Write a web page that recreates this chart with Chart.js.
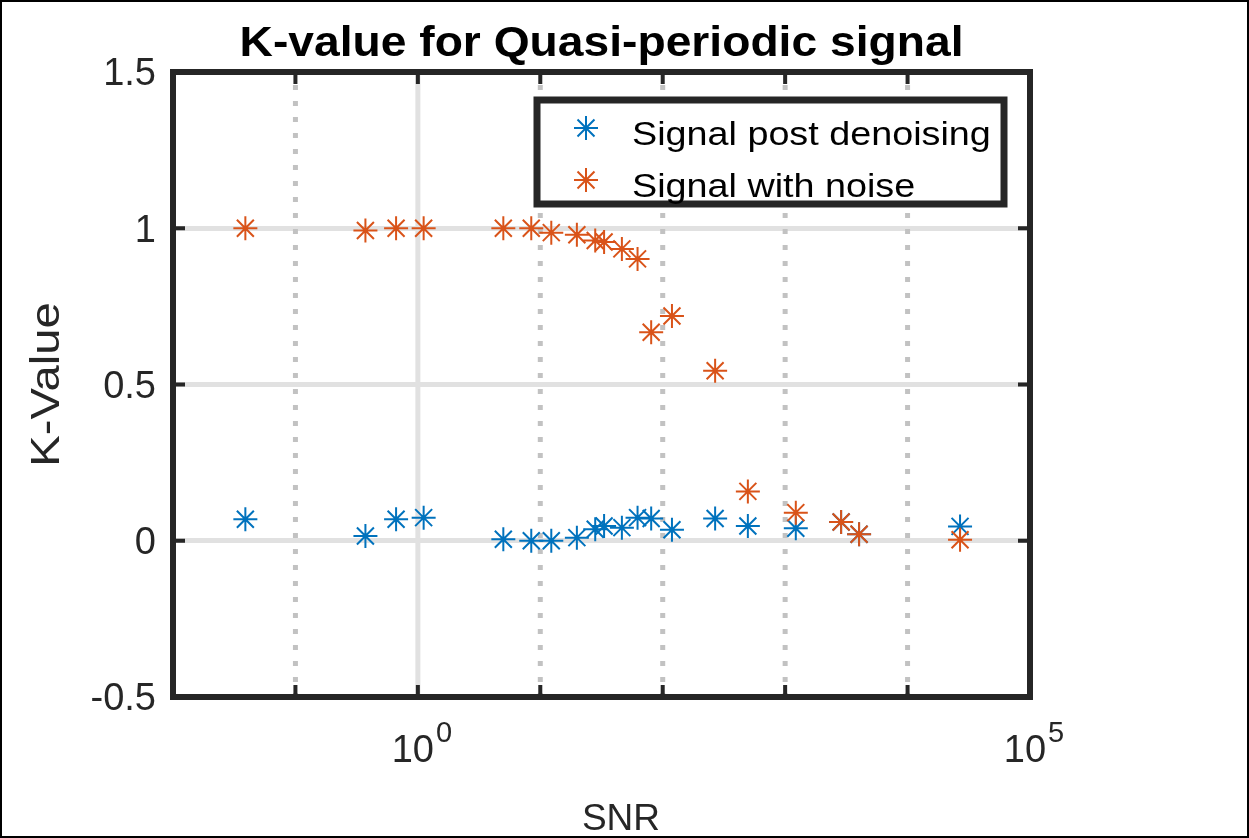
<!DOCTYPE html>
<html>
<head>
<meta charset="utf-8">
<title>K-value for Quasi-periodic signal</title>
<script src="https://cdn.jsdelivr.net/npm/chart.js@4.4.1/dist/chart.umd.min.js"></script>
<style>
  html, body { margin: 0; padding: 0; background: #fff; }
  canvas { display: block; }
</style>
</head>
<body>
<canvas id="kChart" width="1249" height="838"></canvas>
<script>
// SNR of each run and the K-value measured for it
const snr = [0.039, 0.373, 0.664, 1.115, 4.99, 8.44, 12.3, 19.9, 28.1, 33.2,
             46.4, 62.3, 80.5, 119, 268, 496, 1222, 2866, 4018, 26830];
const kDenoised = [0.069, 0.015, 0.069, 0.074, 0.005, 0, 0, 0.010, 0.037, 0.047,
                   0.042, 0.074, 0.071, 0.035, 0.071, 0.047, 0.040, 0.060, 0.021, 0.046];
const kNoisy = [1.0, 0.993, 1.0, 1.0, 1.0, 1.0, 0.986, 0.979, 0.961, 0.956,
                0.934, 0.902, 0.667, 0.719, 0.544, 0.158, 0.090, 0.060, 0.021, 0.003];

const seriesNames = ['Signal post denoising', 'Signal with noise'];
const seriesColors = ['#0072BD', '#D95319'];

const xDecades = [1e-2, 1e-1, 1e0, 1e1, 1e2, 1e3, 1e4, 1e5];
const xLabelExps = [0, 5];
const yTicks = [-0.5, 0, 0.5, 1, 1.5];
const yTickLabels = ['-0.5', '0', '0.5', '1', '1.5'];

const AXIS_COLOR = '#262626';
const FONT = '"Liberation Sans", Arial, Helvetica, sans-serif';

function toPoints(ys) {
    return snr.map((s, i) => ({ x: s, y: ys[i] }));
}

// text with a horizontal stretch (along the text direction)
function drawText(ctx, text, x, y, font, sx, align, baseline, rot) {
    ctx.save();
    ctx.font = font;
    ctx.textAlign = align;
    ctx.textBaseline = baseline;
    ctx.translate(x, y);
    if (rot) ctx.rotate(rot);
    ctx.scale(sx, 1);
    ctx.fillText(text, 0, 0);
    ctx.restore();
}

function drawStar(ctx, color, x, y) {
    ctx.save();
    ctx.strokeStyle = color;
    ctx.fillStyle = color;
    ctx.lineWidth = 2;
    Chart.helpers.drawPoint(ctx, { pointStyle: 'star', radius: 12, borderWidth: 2, rotation: 0 }, x, y);
    ctx.restore();
}

const matlabAxes = {
    id: 'matlabAxes',
    beforeDatasetsDraw(chart) {
        const { ctx, chartArea: a, scales: { x } } = chart;
        ctx.save();
        ctx.beginPath();
        ctx.rect(a.left, a.top, a.right - a.left, a.bottom - a.top);
        ctx.clip();
        x.ticks.forEach(t => {
            const px = x.getPixelForValue(t.value);
            const major = xLabelExps.includes(Math.round(Math.log10(t.value)));
            ctx.beginPath();
            ctx.lineWidth = 5;
            if (major) {
                ctx.strokeStyle = '#e1e1e1';
                ctx.setLineDash([]);
            } else {
                ctx.strokeStyle = '#c2c2c2';
                ctx.setLineDash([5, 11]);
                ctx.lineDashOffset = 3;
            }
            ctx.moveTo(px, a.top);
            ctx.lineTo(px, a.bottom);
            ctx.stroke();
        });
        ctx.restore();
    },
    afterDraw(chart) {
        const { ctx, chartArea: a, scales: { x, y } } = chart;
        ctx.save();

        // axes box
        ctx.strokeStyle = AXIS_COLOR;
        ctx.lineWidth = 6;
        ctx.strokeRect(a.left, a.top, a.right - a.left, a.bottom - a.top);

        // inward tick marks
        ctx.lineWidth = 4;
        ctx.beginPath();
        x.ticks.forEach(t => {
            const px = x.getPixelForValue(t.value);
            ctx.moveTo(px, a.bottom); ctx.lineTo(px, a.bottom - 12);
            ctx.moveTo(px, a.top); ctx.lineTo(px, a.top + 12);
        });
        yTicks.forEach(v => {
            const py = y.getPixelForValue(v);
            ctx.moveTo(a.left, py); ctx.lineTo(a.left + 12, py);
            ctx.moveTo(a.right, py); ctx.lineTo(a.right - 12, py);
        });
        ctx.stroke();

        // y tick labels
        ctx.fillStyle = AXIS_COLOR;
        yTicks.forEach((v, i) => {
            drawText(ctx, yTickLabels[i], a.left - 17, y.getPixelForValue(v) + 3,
                     '38px ' + FONT, 1.0, 'right', 'middle');
        });

        // x tick labels as powers of ten
        xLabelExps.forEach(e => {
            const px = x.getPixelForValue(Math.pow(10, e));
            ctx.font = '38px ' + FONT;
            const wBase = ctx.measureText('10').width;
            ctx.font = '29px ' + FONT;
            const wExp = ctx.measureText(String(e)).width;
            const left = px + 4 - (wBase + wExp + 2) / 2;
            drawText(ctx, '10', left, 762, '38px ' + FONT, 1.0, 'left', 'alphabetic');
            drawText(ctx, String(e), left + wBase + 2, 742, '29px ' + FONT, 1.0, 'left', 'alphabetic');
        });

        // axis titles
        drawText(ctx, 'SNR', 621, 830, '37px ' + FONT, 1.0, 'center', 'alphabetic');
        drawText(ctx, 'K-Value', 48, (a.top + a.bottom) / 2, '40px ' + FONT, 1.18, 'center', 'middle', -Math.PI / 2);

        // title
        ctx.fillStyle = '#000';
        drawText(ctx, 'K-value for Quasi-periodic signal', (a.left + a.right) / 2, 56,
                 'bold 42px ' + FONT, 1.1, 'center', 'alphabetic');

        // legend
        const lx = 537, ly = 100, lw = 467, lh = 104;
        ctx.fillStyle = '#fff';
        ctx.fillRect(lx, ly, lw, lh);
        ctx.strokeStyle = AXIS_COLOR;
        ctx.lineWidth = 7;
        ctx.strokeRect(lx, ly, lw, lh);
        chart.data.datasets.forEach((ds, i) => {
            const rowY = 128 + i * 52;
            drawStar(ctx, ds.borderColor, 586, rowY);
            ctx.fillStyle = '#000';
            drawText(ctx, ds.label, 632, rowY + 17, '34px ' + FONT, 1.11, 'left', 'alphabetic');
        });

        // figure border
        ctx.strokeStyle = '#000';
        ctx.lineWidth = 2;
        ctx.strokeRect(1, 1, chart.width - 2, chart.height - 2);

        ctx.restore();
    }
};

const datasets = [kDenoised, kNoisy].map((ys, i) => ({
    label: seriesNames[i],
    data: toPoints(ys),
    showLine: false,
    pointStyle: 'star',
    pointRadius: 12,
    pointHoverRadius: 12,
    borderWidth: 2,
    borderColor: seriesColors[i],
    backgroundColor: seriesColors[i],
    order: 2 - i
}));

new Chart(document.getElementById('kChart'), {
    type: 'scatter',
    data: { datasets: datasets },
    options: {
        responsive: false,
        animation: false,
        events: [],
        layout: { padding: { left: 0, right: 219, top: 72, bottom: 0 } },
        plugins: {
            legend: { display: false },
            title: { display: false },
            tooltip: { enabled: false }
        },
        scales: {
            x: {
                type: 'logarithmic',
                min: 1e-2,
                max: 1e5,
                afterBuildTicks: scale => { scale.ticks = xDecades.map(v => ({ value: v })); },
                afterFit: scale => { scale.height = 141; },
                ticks: { display: false },
                grid: { display: false },
                border: { display: false }
            },
            y: {
                min: -0.5,
                max: 1.5,
                afterBuildTicks: scale => { scale.ticks = yTicks.map(v => ({ value: v })); },
                afterFit: scale => { scale.width = 173; },
                ticks: { display: false },
                grid: { color: '#e1e1e1', lineWidth: 5, drawTicks: false },
                border: { display: false }
            }
        }
    },
    plugins: [matlabAxes]
});
</script>
</body>
</html>
